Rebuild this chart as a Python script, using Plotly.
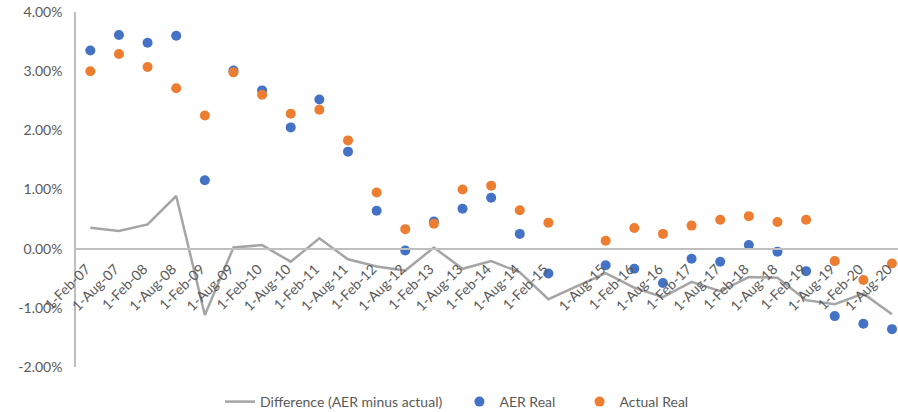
import plotly.graph_objects as go

categories = ["1-Feb-07", "1-Aug-07", "1-Feb-08", "1-Aug-08", "1-Feb-09", "1-Aug-09",
              "1-Feb-10", "1-Aug-10", "1-Feb-11", "1-Aug-11", "1-Feb-12", "1-Aug-12",
              "1-Feb-13", "1-Aug-13", "1-Feb-14", "1-Aug-14", "1-Feb-15", " ",
              "1-Aug-15", "1-Feb-16", "1-Aug-16", "1-Feb-17", "1-Aug-17", "1-Feb-18",
              "1-Aug-18", "1-Feb-19", "1-Aug-19", "1-Feb-20", "1-Aug-20"]

aer_real = [3.35, 3.61, 3.48, 3.60, 1.155, 3.01, 2.675, 2.05, 2.52, 1.64, 0.64, -0.03,
            0.46, 0.675, 0.86, 0.25, -0.42, None,
            -0.28, -0.34, -0.58, -0.17, -0.22, 0.06, -0.05, -0.38, -1.14, -1.27, -1.36]

actual_real = [3.00, 3.29, 3.07, 2.71, 2.25, 2.98, 2.60, 2.28, 2.35, 1.83, 0.95, 0.33,
               0.42, 1.00, 1.065, 0.65, 0.44, None,
               0.135, 0.35, 0.25, 0.39, 0.49, 0.55, 0.45, 0.49, -0.21, -0.53, -0.25]

difference = [0.355, 0.30, 0.41, 0.89, -1.12, 0.02, 0.06, -0.22, 0.175, -0.18, -0.30, -0.37,
              0.02, -0.34, -0.21, -0.40, -0.855, None,
              -0.415, -0.66, -0.82, -0.56, -0.72, -0.48, -0.49, -0.87, -0.94, -0.76, -1.11]

y_tickvals = [-2, -1, 0, 1, 2, 3, 4]
y_ticktext = ["-2.00%", "-1.00%", "0.00%", "1.00%", "2.00%", "3.00%", "4.00%"]

series_names = ["Difference (AER minus actual)", "AER Real", "Actual Real"]

FONT = "Lato, 'Open Sans', sans-serif"
TXT = "#595959"
PAD1 = "\u2003\u2009"          # invisible extra spacing between legend entries
PAD2 = "\u2003\u2002\u2009"

fig = go.Figure()
fig.add_trace(go.Scatter(x=categories, y=difference, mode="lines", connectgaps=True,
                         name=series_names[0] + PAD1,
                         line=dict(color="#A5A5A5", width=2.5)))
fig.add_trace(go.Scatter(x=categories, y=aer_real, mode="markers", name=series_names[1] + PAD2,
                         marker=dict(color="#4472C4", size=10, line=dict(width=0))))
fig.add_trace(go.Scatter(x=categories, y=actual_real, mode="markers", name=series_names[2],
                         marker=dict(color="#ED7D31", size=10, line=dict(width=0))))

fig.update_layout(
    width=898, height=412,
    margin=dict(l=76, r=0, t=12, b=45, autoexpand=False),
    paper_bgcolor="white", plot_bgcolor="white",
    font=dict(family=FONT, size=14, color=TXT),
    showlegend=True, hovermode=False,
    legend=dict(orientation="h", x=0.1752, xanchor="left", y=-0.0986, yanchor="middle",
                font=dict(size=14, color=TXT), bgcolor="rgba(0,0,0,0)"),
    xaxis=dict(type="category", categoryorder="array", categoryarray=categories,
               range=[-0.5, 28.21], anchor="free", position=1/3,
               showline=True, linecolor="#BFBFBF", linewidth=1.5,
               showgrid=False, zeroline=False, ticks="", tickangle=-45,
               ticklabelstandoff=6, ticklabelshift=-4, ticklabeloverflow="allow",
               tickfont=dict(size=14, color=TXT), automargin=False),
    yaxis=dict(range=[-2, 4], tickvals=y_tickvals, ticktext=y_ticktext,
               showline=True, linecolor="#BFBFBF", linewidth=1.5,
               showgrid=False, zeroline=False, ticks="", ticklabelstandoff=9,
               ticklabeloverflow="allow",
               tickfont=dict(size=14, color=TXT), automargin=False),
)

fig.write_html("out.html", config={"displayModeBar": False},
               post_script="document.body.style.margin='0px';document.body.style.overflow='hidden';")
